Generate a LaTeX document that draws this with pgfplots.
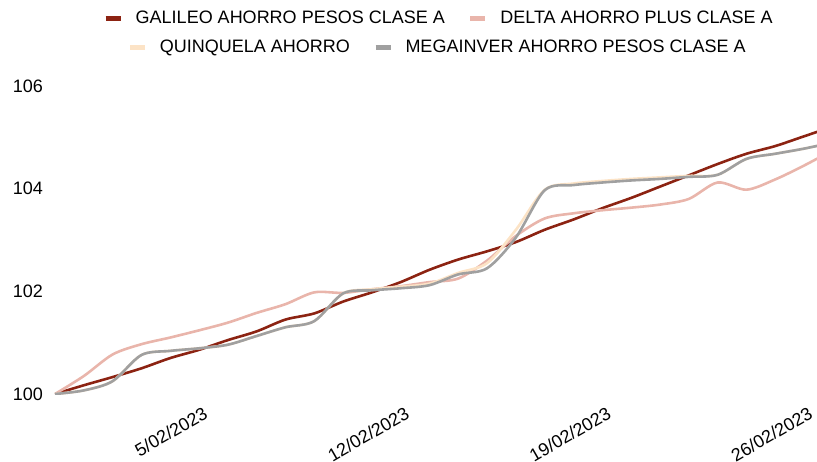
\documentclass[border=0pt]{standalone}
\usepackage{pgfplots}
\pgfplotsset{compat=1.18}
\usepackage{fontspec}
\setmainfont{Liberation Sans}

\definecolor{galileo}{HTML}{8C2312}
\definecolor{delta}{HTML}{E9B5AB}
\definecolor{quinq}{HTML}{FCE3C6}
\definecolor{mega}{HTML}{A0A0A0}

% x = day of year (31 = 31/01/2023)
\pgfplotsset{
  base/.style={
    scale only axis,
    width=762bp, height=308bp,
    xmin=31, xmax=57.45,
    ymin=100, ymax=106,
    axis line style={draw=none},
    major tick length=0pt,
    ytick={100,102,104,106},
    xtick={36,43,50,57},
    xticklabels={5/02/2023,12/02/2023,19/02/2023,26/02/2023},
    /pgf/number format/assume math mode=true,
    tick label style={font=\fontsize{18bp}{21bp}\selectfont, inner sep=0pt},
    yticklabel style={xshift=-12bp},
    xticklabel style={rotate=30, anchor=north east, xshift=-3bp, yshift=-12bp},
    legend columns=2,
    legend image code/.code={
      \draw[line width=5bp] (0bp,0bp) -- (15bp,0bp);
      \path[draw=none] (0bp,0bp) -- (30bp,0bp);
    },
    legend style={draw=none, fill=none, anchor=center,
      font=\fontsize{18bp}{21bp}\selectfont,
      nodes={inner xsep=0pt, inner ysep=1pt},
      /tikz/every even column/.append style={column sep=23bp}},
  },
}

\begin{document}
\begin{tikzpicture}
\begin{axis}[base,
  legend style={at={(axis description cs:0.5026,1.2208)}},
  every axis plot/.append style={line width=2.6bp, smooth}]
\addplot[color=galileo] coordinates {
(31,100.00)(32,100.17)(33,100.33)(34,100.50)(35,100.70)(36,100.86)(37,101.05)
(38,101.22)(39,101.45)(40,101.57)(41,101.80)(42,101.98)(43,102.18)(44,102.42)
(45,102.62)(46,102.78)(47,102.96)(48,103.20)(49,103.40)(50,103.62)(51,103.82)
(52,104.04)(53,104.26)(54,104.48)(55,104.68)(56,104.83)(57,105.02)(58,105.21)};
\addplot[color=delta] coordinates {
(31,100.00)(32,100.35)(33,100.77)(34,100.97)(35,101.10)(36,101.24)(37,101.39)
(38,101.58)(39,101.75)(40,101.98)(41,101.97)(42,102.04)(43,102.10)(44,102.18)
(45,102.25)(46,102.60)(47,103.08)(48,103.42)(49,103.52)(50,103.58)(51,103.63)
(52,103.69)(53,103.80)(54,104.12)(55,103.98)(56,104.18)(57,104.45)(58,104.75)};
\addplot[color=quinq] coordinates {
(31,100.00)(32,100.07)(33,100.25)(34,100.76)(35,100.84)(36,100.89)(37,100.96)
(38,101.13)(39,101.30)(40,101.42)(41,101.96)(42,102.04)(43,102.09)(44,102.15)
(45,102.36)(46,102.55)(47,103.20)(48,103.98)(49,104.10)(50,104.15)(51,104.19)
(52,104.22)(53,104.25)(54,104.27)(55,104.58)(56,104.68)(57,104.78)(58,104.90)};
\addplot[color=mega] coordinates {
(31,100.00)(32,100.07)(33,100.25)(34,100.76)(35,100.84)(36,100.89)(37,100.96)
(38,101.13)(39,101.30)(40,101.42)(41,101.96)(42,102.02)(43,102.06)(44,102.12)
(45,102.33)(46,102.45)(47,103.05)(48,103.97)(49,104.07)(50,104.12)(51,104.16)
(52,104.19)(53,104.23)(54,104.27)(55,104.58)(56,104.68)(57,104.78)(58,104.90)};
\legend{GALILEO AHORRO PESOS CLASE A, DELTA AHORRO PLUS CLASE A}
\end{axis}
\begin{axis}[base, hide axis,
  legend style={at={(axis description cs:0.5007,1.1266)}}]
\addlegendimage{color=quinq}
\addlegendentry{QUINQUELA AHORRO}
\addlegendimage{color=mega}
\addlegendentry{MEGAINVER AHORRO PESOS CLASE A}
\end{axis}
\pgfresetboundingbox
\useasboundingbox (-55bp,-68bp) rectangle (762bp,394bp);
\end{tikzpicture}
\end{document}
